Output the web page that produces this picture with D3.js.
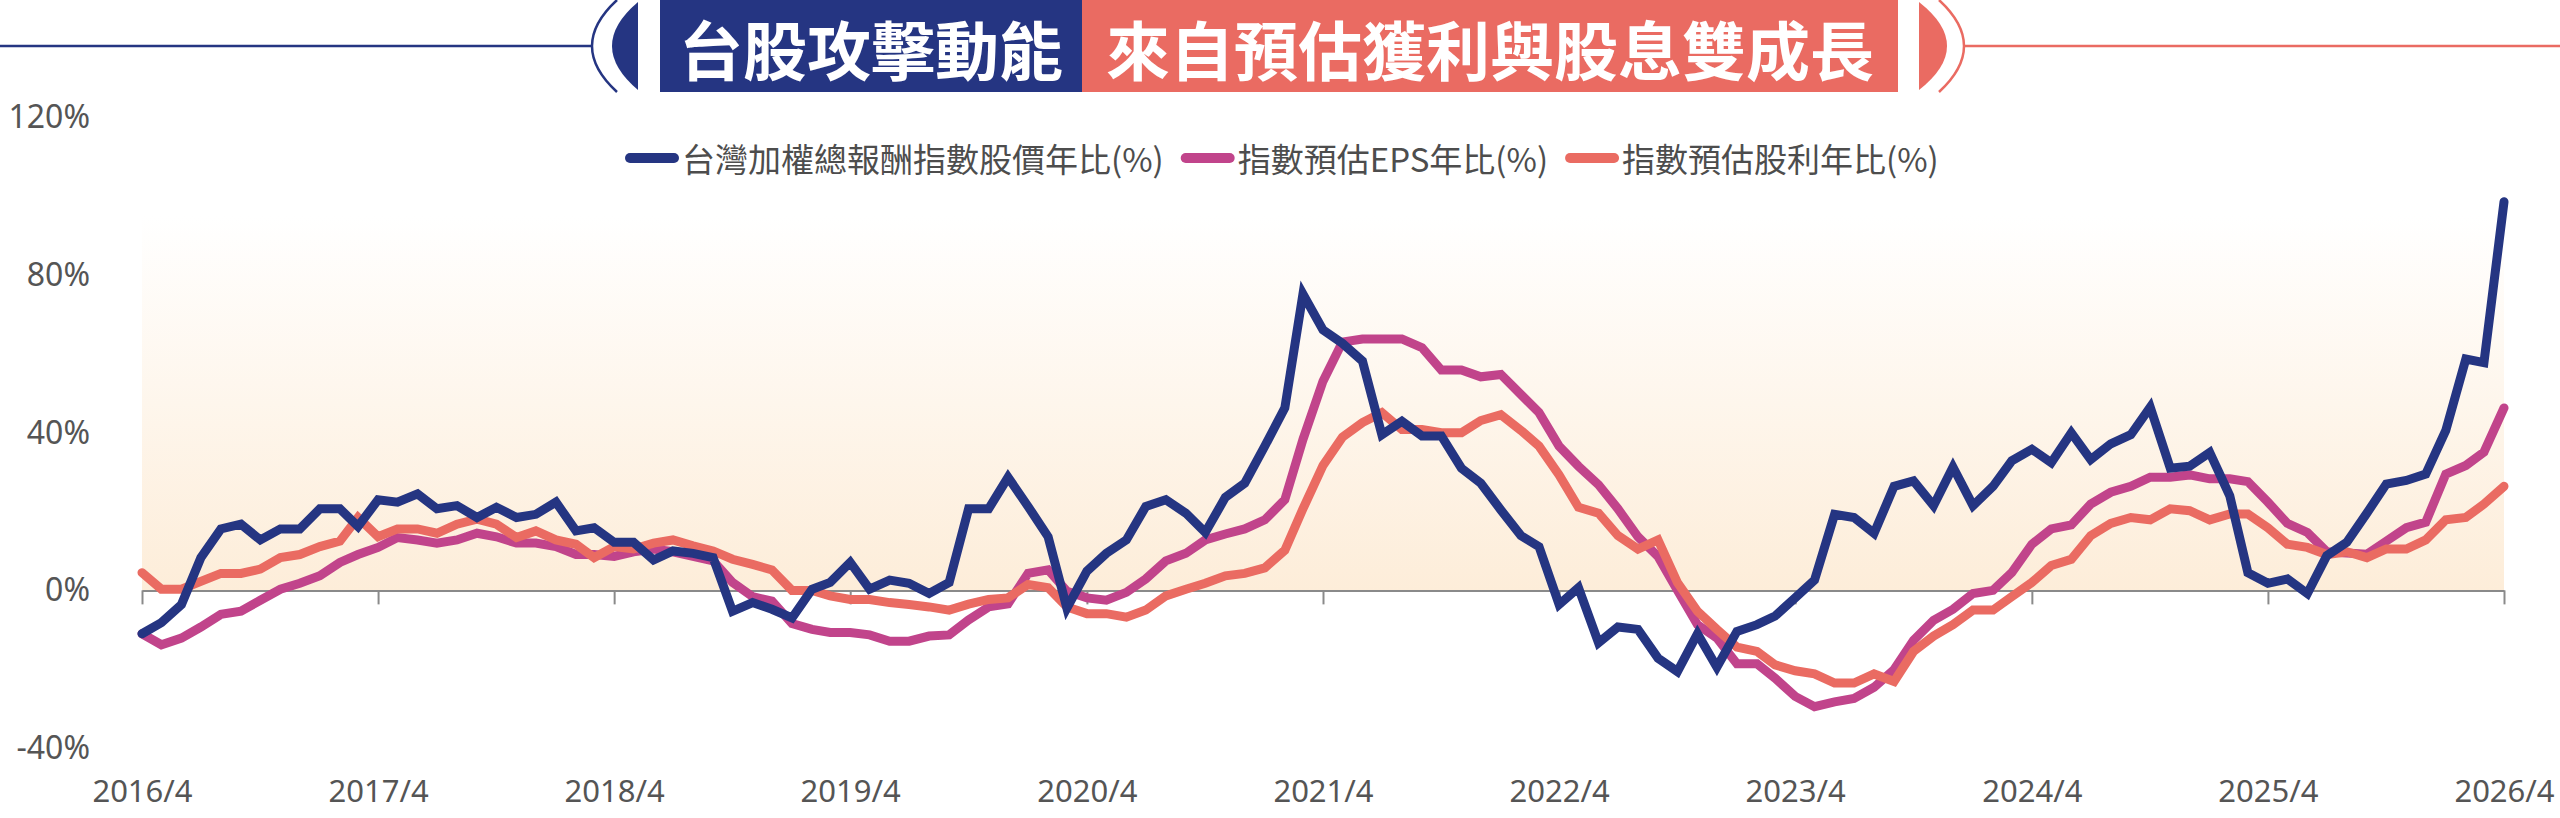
<!DOCTYPE html>
<html>
<head>
<meta charset="utf-8">
<script src="https://cdn.jsdelivr.net/npm/d3@7"></script>
<style>
  body { margin: 0; background: #fff; }
  svg { display: block; }
</style>
</head>
<body>
<script>
// monthly series, first point is 2016/4
const startMonth = "2016-04";

const priceYoY = [
  -11, -8.2, -3.6, 8.3, 15.6, 16.8, 12.8, 15.6, 15.6, 20.7, 20.7, 16.2,
  23, 22.4, 24.5, 20.7, 21.5, 18.5, 21.1, 18.5, 19.3, 22.4, 15.1, 15.9,
  12.2, 12.2, 7.7, 10, 9.4, 8.3, -5.3, -3.1, -4.8, -7, 0.3, 2,
  7.1, 0.3, 2.6, 1.8, -0.8, 2, 20.7, 20.7, 28.7, 21.3, 13.6, -4.5,
  4.9, 9.4, 12.8, 21.3, 23, 19.6, 14.7, 23.6, 27.2, 36.6, 46.3, 75.2,
  66.1, 62.7, 58.2, 39.5, 42.9, 39.2, 39.2, 31, 27.2, 20.4, 13.9, 11.1,
  -3.6, 0.7, -13.3, -9.3, -9.9, -17.2, -20.6, -11, -19.5, -10.4, -8.7, -6.5,
  -1.9, 2.6, 19.3, 18.5, 14.5, 26.4, 27.8, 21.5, 31.3, 21.5, 26.4, 32.9,
  35.8, 32.4, 40, 33.2, 37.2, 39.5, 46.5, 31, 31.5, 35, 24, 4.5,
  1.8, 2.9, -0.8, 8.8, 12.2, 19.6, 27, 27.9, 29.5, 40.6, 58.7, 57.8,
  98.6
];

const epsYoY = [
  -11, -13.8, -12.1, -9.3, -6.1, -5.3, -2.5, 0.3, 1.8, 3.7, 7.1, 9.1,
  10.9, 13.4, 12.8, 12, 12.8, 14.5, 13.6, 12, 12, 11.1, 9.1, 9.1,
  8.6, 9.8, 10.5, 9.8, 8.6, 7.5, 2, -1.6, -2.7, -8.4, -9.9, -10.7,
  -10.7, -11.3, -12.9, -12.9, -11.6, -11.3, -7.5, -4.2, -3.4, 4.3, 5.2, -0.2,
  -1.9, -2.5, -0.5, 2.9, 7.5, 9.4, 12.8, 14.3, 15.6, 17.9, 23, 38.3,
  53.1, 63, 63.8, 63.8, 63.8, 61.6, 55.9, 55.9, 54.2, 54.8, 49.7, 45.1,
  36.6, 31.5, 26.8, 20.7, 13.6, 8.6, 0, -8.7, -12.1, -18.6, -18.6, -22.3,
  -26.9, -29.5, -28.3, -27.4, -24.6, -20.1, -12.7, -7.6, -4.8, -0.8, 0, 4.5,
  11.7, 15.6, 16.6, 21.9, 24.9, 26.4, 28.7, 28.7, 29.3, 28.3, 28.3, 27.6,
  22.4, 17, 14.7, 9.8, 9.5, 9.2, 12.5, 15.9, 17.3, 29.5, 31.7, 35.1,
  46.3
];

const dividendYoY = [
  4.5, 0.3, 0.3, 2.3, 4.3, 4.3, 5.4, 8.3, 9.1, 11.1, 12.5, 18.5,
  13.6, 15.6, 15.6, 14.5, 16.8, 18.1, 16.8, 13.4, 15.1, 12.8, 11.7, 8.3,
  11.1, 10.5, 12, 12.8, 11.3, 10, 7.9, 6.6, 5.2, 0, 0, -1.4,
  -2.3, -2.3, -3.1, -3.6, -4.2, -5, -3.5, -2.3, -1.9, 1.5, 0.7, -4.2,
  -5.9, -5.9, -6.8, -5, -1.4, 0.3, 1.8, 3.7, 4.3, 5.7, 10.2, 20.7,
  31.7, 38.9, 42.6, 45.1, 40.8, 40.8, 40, 40, 43.1, 44.6, 40.6, 36.6,
  29.3, 21.1, 19.6, 13.9, 10.5, 12.8, 2, -5.3, -9.9, -14.4, -15.5, -18.9,
  -20.4, -21.2, -23.5, -23.5, -21.2, -23.1, -15.5, -11.6, -8.7, -5, -5, -1.6,
  2, 6.3, 7.9, 13.9, 17, 18.5, 17.9, 20.7, 20.2, 17.9, 19.4, 19.4,
  15.9, 11.7, 10.9, 9.1, 9.8, 8.3, 10.5, 10.5, 12.8, 17.9, 18.5, 21.9,
  26.4
];

const seriesNames = ["台灣加權總報酬指數股價年比(%)", "指數預估EPS年比(%)", "指數預估股利年比(%)"];
const seriesColors = ["#253582", "#c1448b", "#ea6b62"];
const yTicks = [-40, 0, 40, 80, 120];
const xTickLabels = ["2016/4", "2017/4", "2018/4", "2019/4", "2020/4", "2021/4",
                     "2022/4", "2023/4", "2024/4", "2025/4", "2026/4"];
const titleLeft = "台股攻擊動能";
const titleRight = "來自預估獲利與股息雙成長";

const W = 2560, H = 818;
const cjk = "'Noto Sans CJK TC', 'Noto Sans CJK SC', sans-serif";
const latin = "'Noto Sans', 'Open Sans', sans-serif";

const svg = d3.select("body").append("svg")
    .attr("width", W)
    .attr("height", H)
    .style("background", "#fff");

// ---- title banner ----
const navy = seriesColors[0], salmon = seriesColors[2];
const banner = svg.append("g");
banner.append("line").attr("x1", 0).attr("x2", 592).attr("y1", 46).attr("y2", 46)
  .attr("stroke", navy).attr("stroke-width", 2.5);
banner.append("line").attr("x1", 1964).attr("x2", W).attr("y1", 46).attr("y2", 46)
  .attr("stroke", salmon).attr("stroke-width", 2.5);
// brackets: thin arc + half lens
banner.append("path").attr("d", "M617,0 Q567,46 617,92")
  .attr("fill", "none").attr("stroke", navy).attr("stroke-width", 2.5);
banner.append("path").attr("d", "M638,2 Q586,46 638,90 Z").attr("fill", navy);
banner.append("path").attr("d", "M1939,0 Q1989,46 1939,92")
  .attr("fill", "none").attr("stroke", salmon).attr("stroke-width", 2.5);
banner.append("path").attr("d", "M1919,2 Q1975,46 1919,90 Z").attr("fill", salmon);

banner.append("rect").attr("x", 660).attr("y", 0).attr("width", 422).attr("height", 92).attr("fill", navy);
banner.append("rect").attr("x", 1082).attr("y", 0).attr("width", 816).attr("height", 92).attr("fill", salmon);
banner.append("text").attr("x", 871).attr("y", 47)
  .attr("text-anchor", "middle").attr("dominant-baseline", "central")
  .style("font-family", cjk).style("font-weight", 700).style("font-size", "64px")
  .attr("fill", "#fff").text(titleLeft);
banner.append("text").attr("x", 1490).attr("y", 47)
  .attr("text-anchor", "middle").attr("dominant-baseline", "central")
  .style("font-family", cjk).style("font-weight", 700).style("font-size", "64px")
  .attr("fill", "#fff").text(titleRight);

// ---- scales ----
const start = d3.utcParse("%Y-%m")(startMonth);
const months = priceYoY.map((d, i) => d3.utcMonth.offset(start, i));
const tickDates = xTickLabels.map(d3.utcParse("%Y/%m"));

const x = d3.scaleUtc()
    .domain([tickDates[0], tickDates[tickDates.length - 1]])
    .range([142, 2504]);
const y = d3.scaleLinear()
    .domain([-40, 120])
    .range([748, 117.5]);

// soft background above the zero line
const defs = svg.append("defs");
const grad = defs.append("linearGradient").attr("id", "bg").attr("x1", 0).attr("x2", 0).attr("y1", 0).attr("y2", 1);
grad.append("stop").attr("offset", "0%").attr("stop-color", "#fff");
grad.append("stop").attr("offset", "100%").attr("stop-color", "#fdedd9");
svg.append("rect")
  .attr("x", x.range()[0]).attr("width", x.range()[1] - x.range()[0])
  .attr("y", y(95)).attr("height", y(0) - y(95))
  .attr("fill", "url(#bg)");

// ---- axes ----
const xAxis = svg.append("g")
    .attr("transform", "translate(0," + y(0) + ")")
    .call(d3.axisBottom(x)
      .tickValues(tickDates)
      .tickFormat((d, i) => xTickLabels[i])
      .tickSize(14)
      .tickSizeOuter(0)
      .tickPadding(176));
xAxis.select(".domain").attr("stroke", "#8a8a8a").attr("stroke-width", 2);
xAxis.selectAll(".tick line").attr("stroke", "#8a8a8a").attr("stroke-width", 2);
xAxis.selectAll(".tick text")
  .style("font-family", latin).style("font-size", "31px").attr("fill", "#555");

const yAxis = svg.append("g")
    .attr("transform", "translate(90,0)")
    .call(d3.axisLeft(y).tickValues(yTicks).tickFormat(d => d + "%").tickSize(0).tickPadding(0));
yAxis.select(".domain").remove();
yAxis.selectAll(".tick text")
  .style("font-family", latin).style("font-size", "32px").attr("fill", "#555");

// ---- lines (EPS, dividend, then price on top) ----
const line = d3.line()
    .x((d, i) => x(months[i]))
    .y(d => y(d));

const seriesData = [priceYoY, epsYoY, dividendYoY];
[1, 2, 0].forEach(k => {
  svg.append("path")
    .datum(seriesData[k])
    .attr("fill", "none")
    .attr("stroke", seriesColors[k])
    .attr("stroke-width", 9)
    .attr("stroke-linejoin", "miter")
    .attr("stroke-linecap", "round")
    .attr("d", line);
});

// ---- legend ----
const legend = svg.append("g").attr("transform", "translate(630,158)");
let lx = 0;
seriesNames.forEach((name, k) => {
  legend.append("line")
    .attr("x1", lx).attr("x2", lx + 44).attr("y1", 0).attr("y2", 0)
    .attr("stroke", seriesColors[k]).attr("stroke-width", 10).attr("stroke-linecap", "round");
  const t = legend.append("text")
    .attr("x", lx + 52).attr("y", 0)
    .attr("dominant-baseline", "central")
    .style("font-family", cjk).style("font-size", "33px")
    .attr("fill", "#4d4d4d")
    .text(name);
  lx += 52 + t.node().getComputedTextLength() + 22;
});
</script>
</body>
</html>
